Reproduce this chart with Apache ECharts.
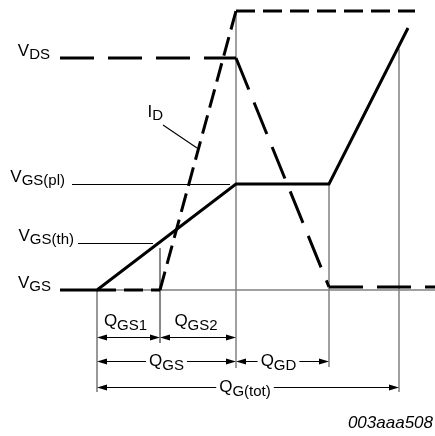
<!DOCTYPE html>
<html><head><meta charset="utf-8">
<script src="https://cdn.jsdelivr.net/npm/echarts@6/dist/echarts.min.js"></script>
<style>html,body{margin:0;padding:0;background:#fff}#c{width:435px;height:436px}</style>
</head><body><div id="c"></div>
<script>
// ---------------- data (diagram units: charge Q along x, level along y) ----------------
const vgsQ = [-3.7, 0, 13.9, 23.2, 31.1];
const vgsV = [0, 0, 10.6, 10.6, 26.2];
const vdsQ = [-3.7, 13.9, 23.2, 33.8];
const vdsV = [23.2, 23.2, 0.3, 0.3];
const idQ  = [0, 6.3, 13.9, 31.8];
const idV  = [0, 0, 27.9, 27.9];
const levelNames  = ['DS', 'GS(pl)', 'GS(th)', 'GS'];
const levelValues = [23.2, 10.6, 4.7, 0];
const chargeNames = ['GS1', 'GS2', 'GS', 'GD', 'G(tot)'];
const chargeFrom  = [0, 6.3, 0, 13.9, 0];
const chargeTo    = [6.3, 13.9, 13.9, 23.2, 30.2];
const figureId = '003aaa508';

// ---------------- layout ----------------
const X_MIN = -9.7, X_MAX = 33.8, Y_MIN = -14.6, Y_MAX = 29.0;
const F = '"Liberation Sans", Arial, Helvetica, sans-serif';
const labelAnchorQ = [vdsQ[0], -2.5, -1.9, vgsQ[0]];
const leaderEndQ   = [null, 13.3, 5.6, null];
const leaderNudge  = 0.05; // half-pixel for crisp 1px leaders
const levelGap     = [10, 7, 4, 9];
const idLeader     = [[6.6, 16.5], [10.0, 14.2]];
const chargeRow    = [-4.7, -4.7, -7.1, -7.1, -9.7];
const chargeInline = [false, false, true, true, true];
const chargeShift  = [-3, -2, 0, -4, -3];
const guideBottom  = [-10.2, -5.3, -7.8, -7.7, -10.2];

const rich = {
  m: {fontSize: 17, fontFamily: F, fill: '#000', color: '#000', lineHeight: 17},
  s: {fontSize: 15, fontFamily: F, fill: '#000', color: '#000', lineHeight: 15, padding: [8, 0, 0, 0]}
};
function richLabel(main, sub) { return '{m|' + main + '}{s|' + sub + '}'; }

function vgsAt(q) {
  for (let i = 0; i < vgsQ.length - 1; i++) {
    if (q >= vgsQ[i] && q <= vgsQ[i + 1]) {
      return vgsV[i] + (vgsV[i + 1] - vgsV[i]) * (q - vgsQ[i]) / (vgsQ[i + 1] - vgsQ[i]);
    }
  }
  return vgsV[vgsV.length - 1];
}
function lineSeries(points, style, z) {
  return {type: 'line', data: points, symbol: 'none', silent: true, animation: false,
          clip: false, z: z || 2, lineStyle: Object.assign({cap: 'butt', join: 'miter'}, style)};
}
function pairwise(qs, vs) {
  const out = [];
  for (let i = 0; i < qs.length - 1; i++) out.push([[qs[i], vs[i]], [qs[i + 1], vs[i + 1]]]);
  return out;
}

const series = [];
// baseline
series.push(lineSeries([[vgsQ[0], 0], [X_MAX, 0]], {color: '#808080', width: 1.5}, 1));
// vertical guides
const guideQ = [chargeFrom[0], chargeTo[0], chargeTo[2], chargeTo[3], chargeTo[4]];
const guideTop = [0, levelValues[2] - 0.5, idV[idV.length - 1], levelValues[1], vgsAt(chargeTo[4]) - 0.3];
const guideColor = ['#333', '#111', '#808080', '#808080', '#808080'];
const guideWidth = [1, 1, 1.5, 1.5, 1.5];
guideQ.forEach((q, i) => {
  series.push(lineSeries([[q, guideTop[i]], [q, guideBottom[i]]], {color: guideColor[i], width: guideWidth[i]}, 1));
});
// leader lines
levelValues.forEach((v, i) => {
  if (leaderEndQ[i] !== null) series.push(lineSeries([[labelAnchorQ[i], v - leaderNudge], [leaderEndQ[i], v - leaderNudge]], {color: '#000', width: 1}, 3));
});
series.push(lineSeries(idLeader, {color: '#000', width: 1.1}, 3));
// curves
series.push(lineSeries(vgsQ.map((q, i) => [q, vgsV[i]]), {color: '#000', width: 3}, 5));
pairwise(vdsQ, vdsV).forEach(seg => series.push(lineSeries(seg, {color: '#000', width: 3, type: [34, 14]}, 5)));
pairwise(idQ, idV).forEach(seg => series.push(lineSeries(seg, {color: '#000', width: 3, type: [19, 8]}, 5)));

// level labels
series.push({
  type: 'custom', coordinateSystem: 'cartesian2d', silent: true, animation: false, z: 10, clip: false,
  data: levelValues.map((v, i) => [labelAnchorQ[i], v, i]),
  renderItem: function (params, api) {
    const i = api.value(2);
    const p = api.coord([api.value(0), api.value(1)]);
    return {type: 'text', x: p[0] - levelGap[i], y: p[1] - 7,
      style: {text: richLabel('V', levelNames[i]), rich: rich, fill: '#000', font: '17px ' + F,
              align: 'right', verticalAlign: 'middle'}};
  }
});
// I_D label
series.push({
  type: 'custom', coordinateSystem: 'cartesian2d', silent: true, animation: false, z: 10, clip: false,
  data: [idLeader[0]],
  renderItem: function (params, api) {
    const p = api.coord([api.value(0), api.value(1)]);
    return {type: 'text', x: p[0], y: p[1] - 13,
      style: {text: richLabel('I', 'D'), rich: rich, fill: '#000', font: '17px ' + F,
              align: 'right', verticalAlign: 'middle'}};
  }
});
// charge dimension arrows
series.push({
  type: 'custom', coordinateSystem: 'cartesian2d', silent: true, animation: false, z: 10, clip: false,
  data: chargeNames.map((n, i) => [chargeFrom[i], chargeTo[i], i]),
  renderItem: function (params, api) {
    const i = api.value(2);
    const a = api.coord([api.value(0), chargeRow[i]]);
    const b = api.coord([api.value(1), chargeRow[i]]);
    const y = Math.round(a[1]) + 0.5, h = 10, w = 3;
    const kids = [
      {type: 'line', shape: {x1: a[0] + h - 1, y1: y, x2: b[0] - h + 1, y2: y}, style: {stroke: '#000', lineWidth: 1}},
      {type: 'polygon', shape: {points: [[a[0], y], [a[0] + h, y - w], [a[0] + h, y + w]]}, style: {fill: '#000'}},
      {type: 'polygon', shape: {points: [[b[0], y], [b[0] - h, y - w], [b[0] - h, y + w]]}, style: {fill: '#000'}}
    ];
    const inl = chargeInline[i];
    const st = {text: richLabel('Q', chargeNames[i]), rich: rich, fill: '#000', font: '17px ' + F,
                align: 'center', verticalAlign: 'middle'};
    if (inl) { st.backgroundColor = '#fff'; st.padding = [0, 3]; }
    kids.push({type: 'text', x: (a[0] + b[0]) / 2 + chargeShift[i], y: inl ? y : y - 16, style: st});
    return {type: 'group', children: kids};
  }
});

const chart = echarts.init(document.getElementById('c'), null, {renderer: 'canvas'});
chart.setOption({
  animation: false,
  backgroundColor: '#fff',
  title: {text: figureId, right: 2, top: 415, padding: 0,
          textStyle: {fontStyle: 'italic', fontWeight: 'normal', fontSize: 17, fontFamily: F, color: '#000'}},
  grid: {left: 0, right: 0, top: 0, bottom: 0},
  xAxis: {type: 'value', min: X_MIN, max: X_MAX, show: false},
  yAxis: {type: 'value', min: Y_MIN, max: Y_MAX, show: false},
  series: series
});
</script>
</body></html>
